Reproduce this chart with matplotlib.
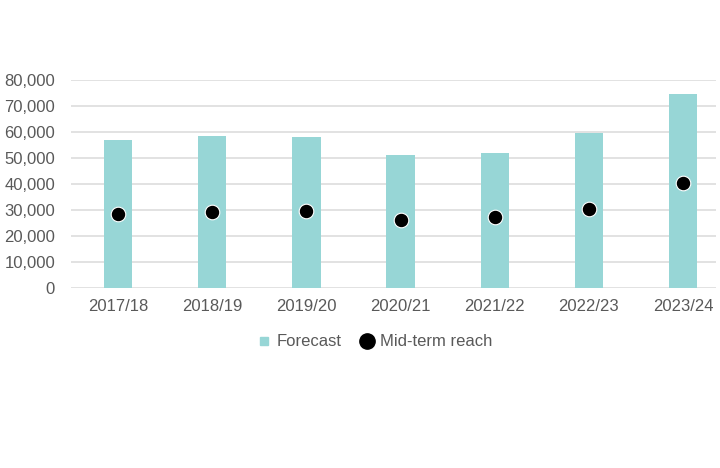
import numpy as np
import matplotlib
matplotlib.use("Agg")
import matplotlib.pyplot as plt
from matplotlib.lines import Line2D

years = ["2017/18", "2018/19", "2019/20", "2020/21", "2021/22", "2022/23", "2023/24"]
forecast = [56800, 58600, 58200, 51200, 51900, 59800, 74600]
mid_term = [28500, 29100, 29500, 26300, 27400, 30500, 40200]

plt.rcParams['font.family'] = ['Liberation Sans', 'DejaVu Sans']

bar_col = "#97D6D6"
grey = "#595959"

fig = plt.figure(figsize=(7.2, 4.68), dpi=100)
ax = fig.add_axes([71 / 720, 180 / 468, 645 / 720, 208 / 468])

x = np.arange(len(years))
ax.bar(x, forecast, width=0.3, color=bar_col, zorder=2)
ax.plot(x, mid_term, "o", color="black", ms=10.5, mec="white", mew=0.8, zorder=3)

ax.set_xlim(-0.5, 6.35)
ax.set_ylim(0, 80000)
ax.set_yticks(np.arange(0, 80001, 10000))
ax.set_yticklabels([f"{v:,}" for v in range(0, 80001, 10000)])
ax.set_xticks(x)
ax.set_xticklabels(years)
ax.tick_params(length=0, labelsize=12, colors=grey)
ax.tick_params(axis="y", pad=11.5)
ax.tick_params(axis="x", pad=8)
ax.grid(axis="y", color="#DDDDDD", lw=1.2, zorder=0)
for s in ax.spines.values():
    s.set_visible(False)

handles = [
    Line2D([], [], marker="s", ls="", color=bar_col, ms=6),
    Line2D([], [], marker="o", ls="", color="black", ms=11),
]
fig.legend(handles, ["Forecast", "Mid-term reach"], loc="center",
           bbox_to_anchor=(374 / 720, 1 - 342 / 468), ncol=2, frameon=False,
           fontsize=12, labelcolor=grey, handletextpad=0.3, columnspacing=1.0,
           handlelength=1.0)

fig.savefig("out.png", dpi=100)
